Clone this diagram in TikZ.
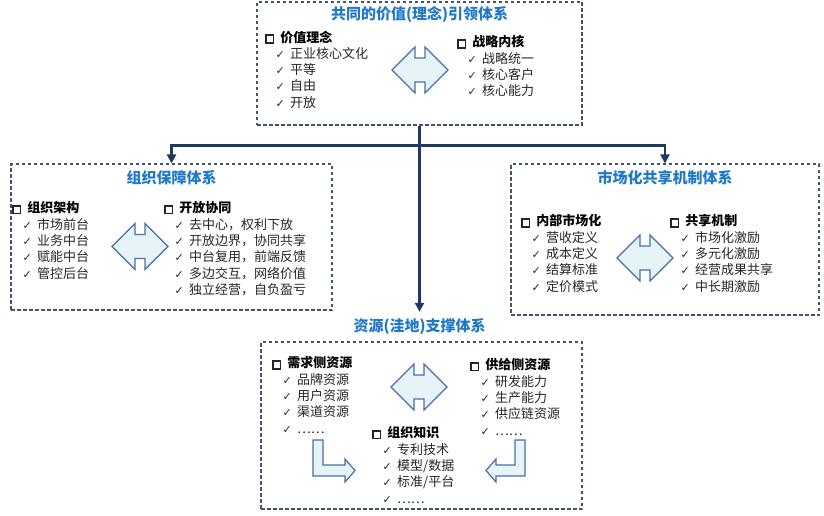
\documentclass[tikz,border=0pt]{standalone}
\usepackage{fontspec}
\setmainfont{Noto Sans CJK SC}
\newfontfamily\djv{DejaVu Sans}
\usetikzlibrary{calc,arrows.meta}
\definecolor{boxline}{RGB}{68,84,106}
\definecolor{titleblue}{RGB}{31,120,200}
\definecolor{connline}{RGB}{31,56,100}
\definecolor{shapeline}{RGB}{74,110,165}
\definecolor{shapefill}{RGB}{230,243,247}
\definecolor{txt}{RGB}{38,38,38}
\tikzset{
	dashbox/.style={draw=boxline, line width=1.1pt, dash pattern=on 3.5pt off 2.5pt, inner sep=0pt},
	titletext/.style={text=titleblue, font=\fontsize{15}{18}\selectfont\bfseries, inner sep=2pt},
	listtext/.style={anchor=north west, inner sep=0pt, align=left, text=txt, font=\fontsize{13}{16.3}\selectfont},
	conn/.style={draw=connline, line width=2.8pt},
	arrowshape/.style={draw=shapeline, fill=shapefill, line width=1.2pt, line join=miter}
}
\newcommand\sqbox{\raisebox{0pt}{\setlength\fboxsep{0pt}\setlength\fboxrule{1.6pt}\fbox{\rule{0pt}{6pt}\hspace{6pt}}}}
\newcommand\hdr[1]{\sqbox\hspace{6pt}{\bfseries\color{black}#1}}
\newcommand\chk{\hspace*{10.5pt}\makebox[14.5pt][l]{\djv\fontsize{11}{11}\selectfont ✓}}
\def\dblarrow(#1,#2){\draw[arrowshape] (#1-28,#2) -- ++(23,-23) -- ++(0,11) -- ++(10,0) -- ++(0,-11) -- ++(23,23) -- ++(-23,23) -- ++(0,-11) -- ++(-10,0) -- ++(0,11) -- cycle;}

\begin{document}
\begin{tikzpicture}[x=1pt, y=-1pt]
	%%%%% START %%%%%
	\useasboundingbox (0,0) rectangle (824,516);
	
	% value system at the top
	\node[dashbox, minimum width=325pt, minimum height=123pt] (vbox) at (419.5,63.5) {};
	\node[titletext] (vtitle) at (419.5,15) {共同的价值(理念)引领体系};
	\node[listtext] (vleft) at (265,30.5) {\hdr{价值理念}\\ \chk 正业核心文化\\ \chk 平等\\ \chk 自由\\ \chk 开放};
	\node[listtext] (vright) at (457,35.5) {\hdr{战略内核}\\ \chk 战略统一\\ \chk 核心客户\\ \chk 核心能力};
	\dblarrow(420,70)
	
	% organisation
	\node[dashbox, minimum width=321pt, minimum height=146pt] (obox) at (171.5,237) {};
	\node[titletext] (otitle) at (171.5,178) {组织保障体系};
	\node[listtext] (oleft) at (12,201.5) {\hdr{组织架构}\\ \chk 市场前台\\ \chk 业务中台\\ \chk 赋能中台\\ \chk 管控后台};
	\node[listtext] (oright) at (164,201.5) {\hdr{开放协同}\\ \chk 去中心，权利下放\\ \chk 开放边界，协同共享\\ \chk 中台复用，前端反馈\\ \chk 多边交互，网络价值\\ \chk 独立经营，自负盈亏};
	\dblarrow(140,246.5)
	
	% market sharing
	\node[dashbox, minimum width=308pt, minimum height=151pt] (mbox) at (665,239.5) {};
	\node[titletext] (mtitle) at (665,178) {市场化共享机制体系};
	\node[listtext] (mleft) at (521,214.5) {\hdr{内部市场化}\\ \chk 营收定义\\ \chk 成本定义\\ \chk 结算标准\\ \chk 定价模式};
	\node[listtext] (mright) at (670,214.5) {\hdr{共享机制}\\ \chk 市场化激励\\ \chk 多元化激励\\ \chk 经营成果共享\\ \chk 中长期激励};
	\dblarrow(645,258)
	
	% resources
	\node[titletext] (rtitle) at (419.5,327) {资源(洼地)支撑体系};
	\node[dashbox, minimum width=321pt, minimum height=167pt] (rbox) at (421.5,425.5) {};
	\node[listtext] (rleft) at (272,356.5) {\hdr{需求侧资源}\\ \chk 品牌资源\\ \chk 用户资源\\ \chk 渠道资源\\ \chk ……};
	\node[listtext] (rright) at (470,358.5) {\hdr{供给侧资源}\\ \chk 研发能力\\ \chk 生产能力\\ \chk 供应链资源\\ \chk ……};
	\node[listtext] (rmid) at (372,426.5) {\hdr{组织知识}\\ \chk 专利技术\\ \chk 模型/数据\\ \chk 标准/平台\\ \chk ……};
	\dblarrow(419,387)
	\draw[arrowshape] (313,440) -- (323,440) -- (323,465) -- (345,465) -- (345,459) -- (355,470.5) -- (345,482) -- (345,476) -- (313,476) -- cycle;
	\draw[arrowshape] (525,440) -- (515,440) -- (515,465) -- (496,465) -- (496,459) -- (486,470.5) -- (496,482) -- (496,476) -- (525,476) -- cycle;
	
	% connectors
	\coordinate (split) at ($(vbox.south)+(0,20)$);
	\draw[conn, -{Triangle[length=9pt,width=9pt]}, shorten >=5pt] (vbox.south) -- (rtitle.north);
	\draw[conn, -{Triangle[length=9pt,width=9pt]}] (split) -| (obox.north);
	\draw[conn, -{Triangle[length=9pt,width=9pt]}] (split) -| (mbox.north);
	
	%%%%% END %%%%%
\end{tikzpicture}
\end{document}
